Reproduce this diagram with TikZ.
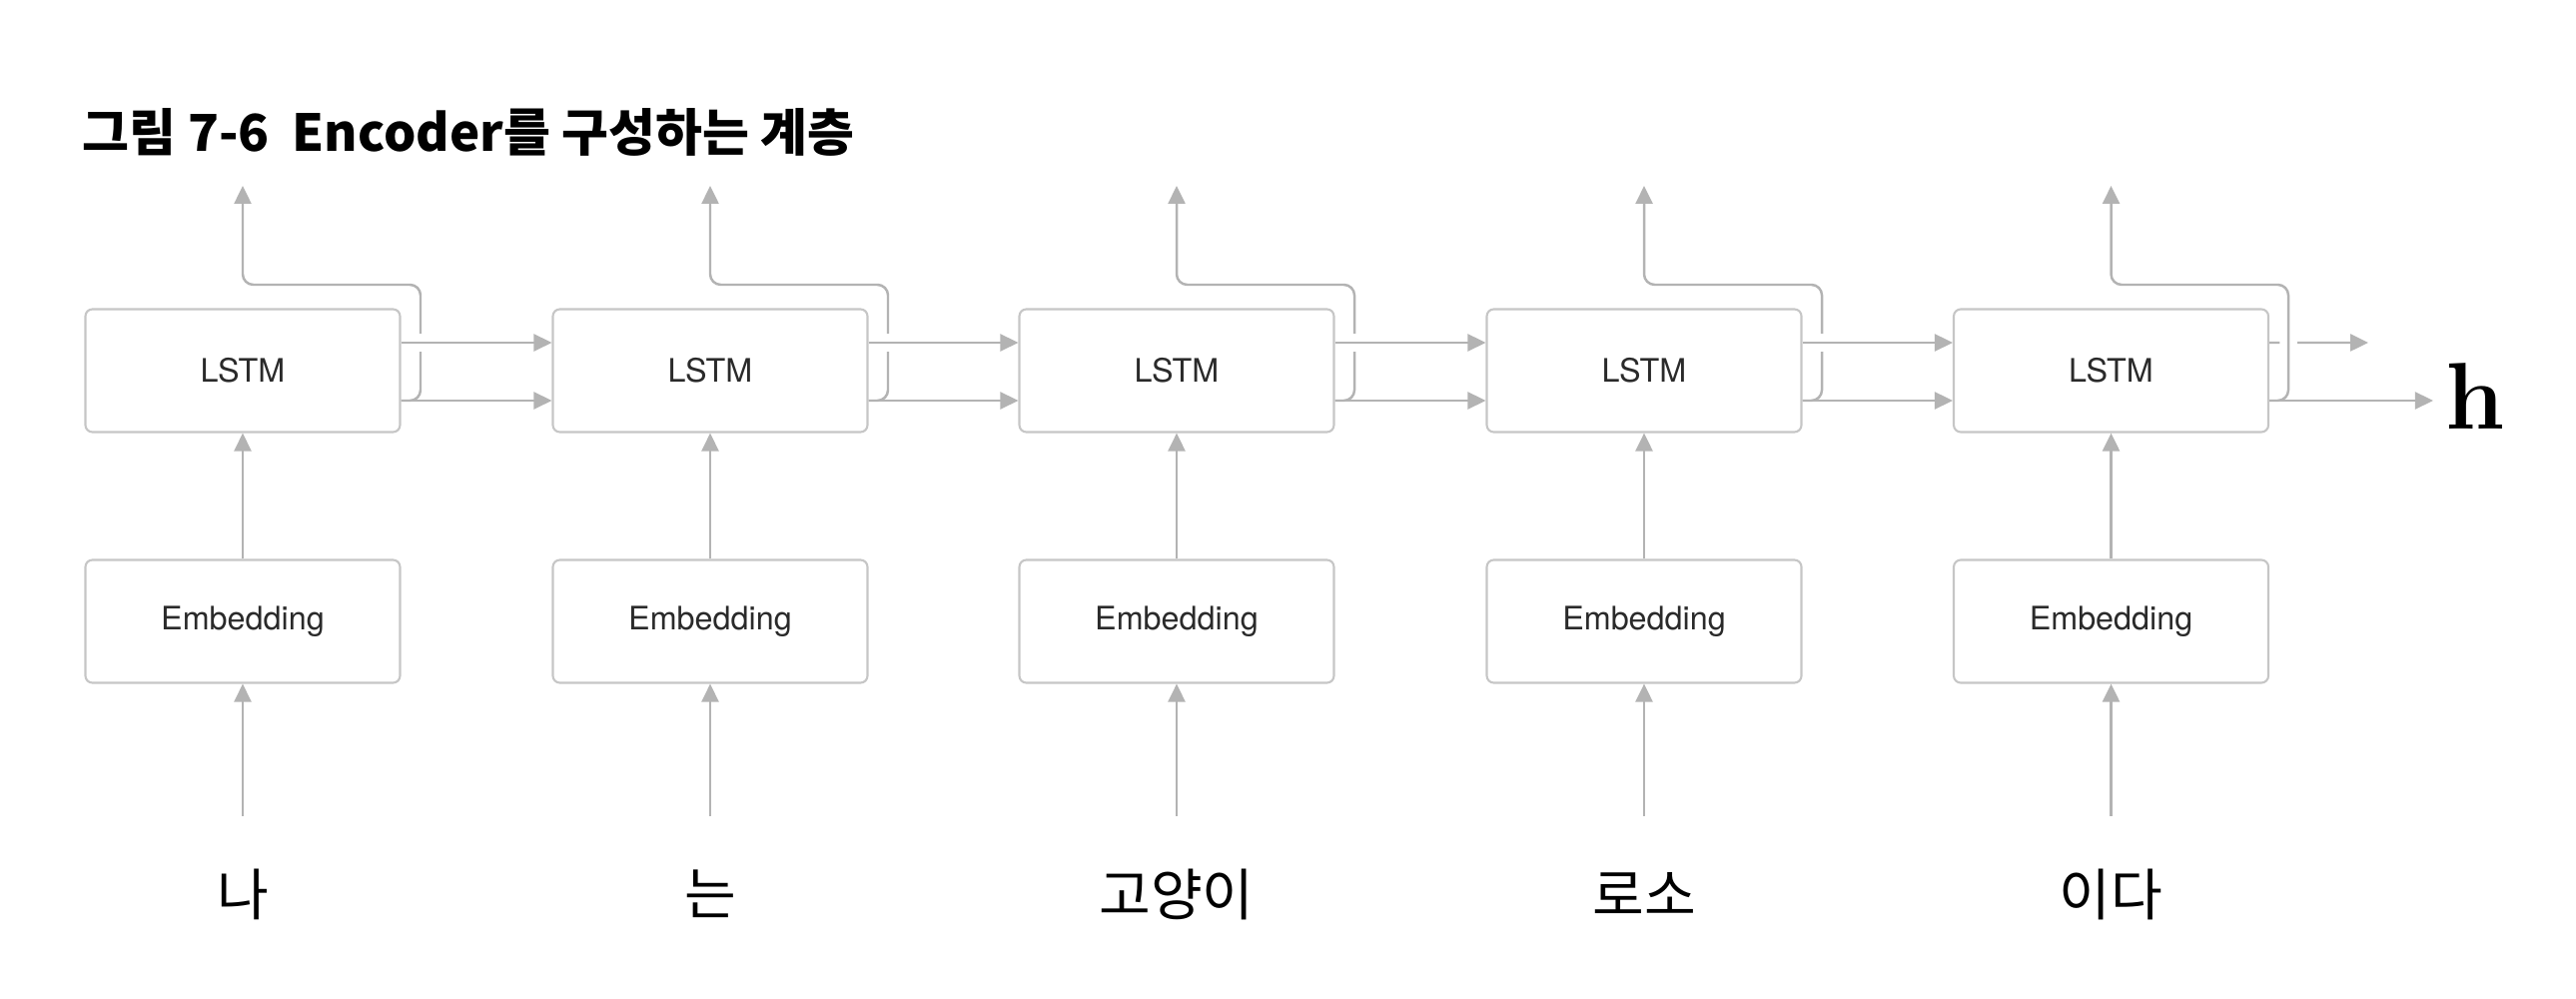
\documentclass[tikz,border=0pt]{standalone}
\usepackage{fontspec}
\setsansfont{TeX Gyre Heros}
\newfontfamily\krfont{Noto Sans CJK KR}
\usetikzlibrary{arrows.meta}
\definecolor{wireline}{HTML}{B3B3B3}
\definecolor{boxline}{HTML}{C6C6C6}
\definecolor{boxtext}{HTML}{2A2A2A}
\tikzset{
  layerbox/.style={draw=boxline, rounded corners=2pt, line width=0.6pt,
                   minimum width=3.15cm, minimum height=1.23cm, inner sep=0,
                   font=\sffamily\fontsize{9.2}{11}\selectfont, text=boxtext},
  wire/.style={draw=wireline, line width=0.7pt, rounded corners=3pt,
               -{Triangle[length=1.8mm,width=1.7mm]}},
  over/.style={preaction={draw=white, line width=5pt, -, shorten <=1mm, shorten >=2.5mm}},
  wordlbl/.style={font=\krfont\fontsize{16}{19}\selectfont},
  titlelbl/.style={anchor=west, inner sep=0, font=\krfont\bfseries\fontsize{14.5}{17}\selectfont},
}

\begin{document}
\begin{tikzpicture}
  \useasboundingbox (0,0) rectangle (25.79,-10);

  % --- title ---
  \node[titlelbl] (title) at (0.82,-1.32) {그림 7-6\hspace{0.45em}Encoder를 구성하는 계층};

  % --- column 1 ---
  \node[layerbox] (lstm1) at (2.43,-3.71) {LSTM};
  \node[layerbox] (emb1)  at (2.43,-6.22) {Embedding};
  \node[wordlbl]  (w1)    at (2.43,-8.95) {나};
  \coordinate (in1)  at (2.43,-8.17);
  \coordinate (tap1) at (4.21,-2.85);
  \coordinate (out1) at (2.43,-1.86);

  % --- column 2 ---
  \node[layerbox] (lstm2) at (7.11,-3.71) {LSTM};
  \node[layerbox] (emb2)  at (7.11,-6.22) {Embedding};
  \node[wordlbl]  (w2)    at (7.11,-8.95) {는};
  \coordinate (in2)  at (7.11,-8.17);
  \coordinate (tap2) at (8.89,-2.85);
  \coordinate (out2) at (7.11,-1.86);

  % --- column 3 ---
  \node[layerbox] (lstm3) at (11.78,-3.71) {LSTM};
  \node[layerbox] (emb3)  at (11.78,-6.22) {Embedding};
  \node[wordlbl]  (w3)    at (11.78,-8.95) {고양이};
  \coordinate (in3)  at (11.78,-8.17);
  \coordinate (tap3) at (13.56,-2.85);
  \coordinate (out3) at (11.78,-1.86);

  % --- column 4 ---
  \node[layerbox] (lstm4) at (16.46,-3.71) {LSTM};
  \node[layerbox] (emb4)  at (16.46,-6.22) {Embedding};
  \node[wordlbl]  (w4)    at (16.46,-8.95) {로소};
  \coordinate (in4)  at (16.46,-8.17);
  \coordinate (tap4) at (18.24,-2.85);
  \coordinate (out4) at (16.46,-1.86);

  % --- column 5 ---
  \node[layerbox] (lstm5) at (21.135,-3.71) {LSTM};
  \node[layerbox] (emb5)  at (21.135,-6.22) {Embedding};
  \node[wordlbl]  (w5)    at (21.135,-8.95) {이다};
  \coordinate (in5)  at (21.135,-8.17);
  \coordinate (tap5) at (22.91,-2.85);
  \coordinate (out5) at (21.135,-1.86);

  % --- h output ---
  \node[anchor=base, font=\bfseries\fontsize{27}{30}\selectfont] (hvec) at (24.78,-4.30) {h};
  \coordinate (hup) at (23.71,-3.43);

  % --- inputs: word -> Embedding -> LSTM ---
  \draw[wire] (in1) -- (emb1);  \draw[wire] (emb1) -- (lstm1);
  \draw[wire] (in2) -- (emb2);  \draw[wire] (emb2) -- (lstm2);
  \draw[wire] (in3) -- (emb3);  \draw[wire] (emb3) -- (lstm3);
  \draw[wire] (in4) -- (emb4);  \draw[wire] (emb4) -- (lstm4);
  \draw[wire] (in5) -- (emb5);  \draw[wire] (emb5) -- (lstm5);

  % --- outputs going up ---
  \draw[wire] ([yshift=-3mm]lstm1.east) -| (tap1) -| (out1);
  \draw[wire] ([yshift=-3mm]lstm2.east) -| (tap2) -| (out2);
  \draw[wire] ([yshift=-3mm]lstm3.east) -| (tap3) -| (out3);
  \draw[wire] ([yshift=-3mm]lstm4.east) -| (tap4) -| (out4);

  % --- recurrent links (c upper, h lower) ---
  \draw[wire, over] ([yshift=2.8mm]lstm1.east) -- ([yshift=2.8mm]lstm2.west);
  \draw[wire] ([yshift=-3mm]lstm1.east) -- ([yshift=-3mm]lstm2.west);
  \draw[wire, over] ([yshift=2.8mm]lstm2.east) -- ([yshift=2.8mm]lstm3.west);
  \draw[wire] ([yshift=-3mm]lstm2.east) -- ([yshift=-3mm]lstm3.west);
  \draw[wire, over] ([yshift=2.8mm]lstm3.east) -- ([yshift=2.8mm]lstm4.west);
  \draw[wire] ([yshift=-3mm]lstm3.east) -- ([yshift=-3mm]lstm4.west);
  \draw[wire, over] ([yshift=2.8mm]lstm4.east) -- ([yshift=2.8mm]lstm5.west);
  \draw[wire] ([yshift=-3mm]lstm4.east) -- ([yshift=-3mm]lstm5.west);

  % --- last step ---
  \draw[wire] ([yshift=2.8mm]lstm5.east) -- (hup);
  \draw[wire, over] ([yshift=-3mm]lstm5.east) -| (tap5) -| (out5);
  \draw[wire] ([yshift=-3mm]lstm5.east) -- ([yshift=-3mm]lstm5.east -| hvec.west);
\end{tikzpicture}
\end{document}
